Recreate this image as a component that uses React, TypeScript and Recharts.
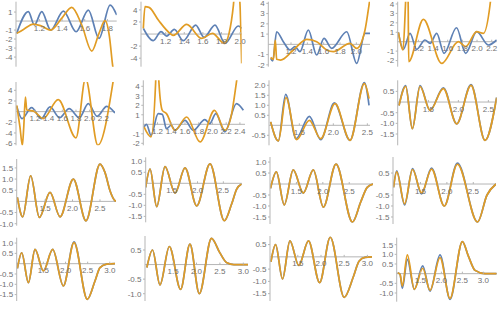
import { LineChart, Line, XAxis, YAxis, ReferenceLine, ReferenceDot } from 'recharts'

type Pt = [number, number]

const BLUE = '#5e81b5'
const ORANGE = '#e19c24'
const AXIS = '#b5b5b5'
const LABEL = '#707070'
const FONT = 'Liberation Sans, Arial, sans-serif'

// row 1
const p1Blue: Pt[] = [[1.0, -1.37], [1.103, 1.04], [1.156, -0.44], [1.221, 1.04], [1.3, -1.0], [1.412, 1.11], [1.524, -1.19], [1.632, 1.22], [1.726, -1.93], [1.824, 1.78], [1.882, 0.67]]
const p1Orange: Pt[] = [[1.0, -1.37], [1.06, -0.93], [1.147, -0.33], [1.22, -0.56], [1.3, -1.0], [1.397, 0.3], [1.485, 1.52], [1.574, -0.44], [1.662, -3.33], [1.726, -1.37], [1.779, 0.04], [1.818, -1.74], [1.844, -4.7], [1.859, -6.2]]

const p2Blue: Pt[] = [[0.96, 0.94], [1.067, -1.1], [1.15, 0.39], [1.211, -0.33], [1.293, 0.77], [1.39, -1.1], [1.523, 1.49], [1.612, -0.55], [1.73, 1.49], [1.838, -1.55], [1.981, 1.33], [2.017, 0.94]]
const p2Orange: Pt[] = [[0.96, 0.94], [0.978, 4.53], [1.021, 4.42], [1.121, 2.32], [1.247, 0.11], [1.282, -0.22], [1.426, 1.6], [1.587, -0.72], [1.702, 0.11], [1.831, -1.55], [1.881, 0.11], [1.928, 4.8], [1.946, 7.8], [1.981, 7.8], [1.999, 4.8], [2.017, -4.86]]

const p3Blue: Pt[] = [[0.951, -1.36], [0.976, -1.62], [1.024, 1.23], [1.106, 0.26], [1.188, -0.55], [1.249, -0.23], [1.31, -0.71], [1.412, 1.4], [1.514, -1.04], [1.604, 0.58], [1.698, -0.39], [1.882, 1.23], [2.004, -1.85], [2.106, 1.07], [2.167, 1.07]]
const p3Orange: Pt[] = [[0.951, -1.27], [0.984, -1.46], [1.008, 0.42], [1.024, -1.46], [1.073, -1.53], [1.229, -0.55], [1.392, 0.49], [1.514, 0.26], [1.637, -0.55], [1.718, -0.71], [1.922, 0.1], [2.004, -0.39], [2.106, 1.4], [2.155, 3.83], [2.176, 4.97]]

const p4Blue: Pt[] = [[0.927, 0.99], [0.995, -0.81], [1.086, 0.88], [1.177, -0.81], [1.29, 0.18], [1.36, -0.18], [1.45, 0.88], [1.55, -1.24], [1.72, 1.48], [1.845, -1.24], [1.995, 1.06], [2.155, -0.35], [2.268, 0.18]]
const p4Orange: Pt[] = [[0.927, 0.99], [0.99, -0.88], [1.027, 4.4], [1.036, 5.8], [1.05, 5.8], [1.06, 4.4], [1.068, -2.12], [1.268, 2.37], [1.518, -2.3], [1.745, 0], [1.845, -0.53], [1.995, 1.06], [2.086, 0.88], [2.177, 3.89], [2.2, 5.5]]

// row 2
const p5Blue: Pt[] = [[0.932, 1.0], [1.01, -1.31], [1.15, 0.75], [1.29, -1.31], [1.42, 0.88], [1.56, -1.13], [1.7, 0.56], [1.85, -1.13], [1.98, 1.5], [2.11, -0.88], [2.25, 1.0], [2.37, -0.25]]
const p5Orange: Pt[] = [[0.932, 1.19], [0.98, -2.9], [1.015, -6.3], [1.035, -3], [1.06, 2.75], [1.08, 0.3], [1.18, 0.1], [1.32, -1.3], [1.54, 2.25], [1.8, -4.9], [1.94, 6.2], [2.12, -6.3], [2.35, 6.2]]

const p6Blue: Pt[] = [[1.003, -0.28], [1.04, 0.0], [1.105, -1.16], [1.21, 1.12], [1.27, 1.05], [1.33, -0.46], [1.4, -0.1], [1.454, -0.63], [1.6, 0.42], [1.72, -0.63], [1.89, 0.5], [1.96, 0.07], [2.05, 1.12], [2.18, -0.8], [2.35, 2.18], [2.45, 1.47]]
const p6Orange: Pt[] = [[1.003, -0.28], [1.105, -1.33], [1.173, 4.46], [1.18, 6], [1.21, 6], [1.22, 4.46], [1.27, 1.47], [1.33, 1.12], [1.454, -0.63], [1.624, 0.77], [1.82, -1.86], [2.03, 1.47], [2.18, -0.63], [2.28, 1.12], [2.35, 4.46], [2.38, 6]]

const p7Blue: Pt[] = [[1.078, 0.17], [1.191, -0.78], [1.299, 1.55], [1.451, -0.67], [1.647, 0.45], [1.814, -0.72], [2.015, 1.12], [2.245, -0.75], [2.456, 2.13], [2.525, 1.0]]
const p7Orange: Pt[] = [[1.078, 0.17], [1.191, -0.78], [1.304, 1.38], [1.461, -0.72], [1.647, 0.25], [1.814, -0.67], [2.025, 1.08], [2.245, -0.75], [2.456, 2.08], [2.525, 1.33]]

const p8Blue: Pt[] = [[1.011, -0.16], [1.122, 0.77], [1.233, -1.25], [1.361, 0.77], [1.528, -0.39], [1.75, 0.67], [1.972, -1.02], [2.211, 0.82], [2.444, -1.8], [2.639, 0.22]]
const p8Orange: Pt[] = [[1.011, -0.16], [1.122, 0.73], [1.233, -1.25], [1.361, 0.73], [1.528, -0.39], [1.75, 0.63], [1.972, -1.02], [2.211, 0.78], [2.444, -1.8], [2.639, 0.2]]

// row 3
const p9Blue: Pt[] = [[0.997, 0.18], [1.094, -0.69], [1.239, 1.15], [1.397, -0.72], [1.591, 0.4], [1.773, -0.69], [2.015, 1.0], [2.245, -0.87], [2.5, 1.67], [2.59, 1.3], [2.682, 0.48], [2.773, 0.03], [2.791, 0.01]]
const p9Orange: Pt[] = [[0.997, 0.18], [1.094, -0.69], [1.239, 1.15], [1.397, -0.72], [1.591, 0.4], [1.773, -0.69], [2.015, 1.0], [2.245, -0.87], [2.5, 1.67], [2.59, 1.3], [2.682, 0.48], [2.773, 0.03], [2.791, 0.01]]

const p10Blue: Pt[] = [[0.997, -0.18], [1.081, 0.65], [1.21, -1.06], [1.371, 0.76], [1.565, -0.45], [1.758, 0.7], [1.984, -1.02], [2.242, 0.88], [2.519, -1.7], [2.66, -0.94], [2.758, -0.26], [2.855, -0.03]]
const p10Orange: Pt[] = [[0.997, -0.18], [1.081, 0.65], [1.21, -1.06], [1.371, 0.76], [1.565, -0.45], [1.758, 0.7], [1.984, -1.02], [2.242, 0.88], [2.519, -1.7], [2.66, -0.94], [2.758, -0.26], [2.855, -0.03]]

const p11Blue: Pt[] = [[1.01, -0.2], [1.12, 0.55], [1.27, -0.95], [1.44, 0.64], [1.63, -0.41], [1.82, 0.64], [2.01, -1.05], [2.25, 0.91], [2.56, -1.73], [2.72, -0.8], [2.84, -0.15], [2.95, 0]]
const p11Orange: Pt[] = [[1.01, -0.2], [1.12, 0.55], [1.27, -0.95], [1.44, 0.64], [1.63, -0.41], [1.82, 0.64], [2.01, -1.05], [2.25, 0.91], [2.56, -1.73], [2.72, -0.8], [2.84, -0.15], [2.95, 0]]

const p12Blue: Pt[] = [[0.99, -0.15], [1.05, 0.6], [1.2, -0.95], [1.35, 0.7], [1.52, -0.45], [1.71, 0.72], [1.95, -1.0], [2.2, 0.95], [2.58, -1.73], [2.76, -0.5], [2.93, 0]]
const p12Orange: Pt[] = [[0.99, -0.15], [1.05, 0.55], [1.2, -0.9], [1.35, 0.66], [1.52, -0.4], [1.71, 0.68], [1.95, -1.0], [2.2, 0.9], [2.58, -1.73], [2.76, -0.5], [2.93, 0]]

// row 4
const p13Blue: Pt[] = [[0.914, -0.23], [1.011, 0.53], [1.162, -0.92], [1.312, 0.69], [1.5, -0.35], [1.711, 0.69], [1.951, -1.08], [2.192, 1.06], [2.492, -1.73], [2.665, -0.84], [2.778, -0.19], [2.929, -0.02], [3.117, 0]]
const p13Orange: Pt[] = [[0.914, -0.23], [1.011, 0.53], [1.162, -0.92], [1.312, 0.69], [1.5, -0.35], [1.711, 0.69], [1.951, -1.08], [2.192, 1.02], [2.492, -1.73], [2.665, -0.84], [2.778, -0.19], [2.929, -0.02], [3.117, 0]]

const p14Blue: Pt[] = [[0.94, -0.1], [1.06, 0.5], [1.22, -0.7], [1.42, 0.62], [1.66, -0.85], [1.86, 0.7], [2.06, -1.0], [2.32, 0.9], [2.5, 0.4], [2.65, 0.06], [2.8, 0], [3.1, 0]]
const p14Orange: Pt[] = [[0.94, -0.1], [1.06, 0.5], [1.22, -0.7], [1.42, 0.62], [1.66, -0.85], [1.86, 0.7], [2.06, -1.0], [2.32, 0.9], [2.5, 0.4], [2.65, 0.06], [2.8, 0], [3.1, 0]]

const p15Blue: Pt[] = [[0.92, -0.2], [1.02, 0.5], [1.17, -0.9], [1.33, 0.65], [1.52, -0.35], [1.73, 0.65], [1.97, -1.05], [2.2, 0.8], [2.5, -1.65], [2.7, -0.8], [2.82, -0.18], [2.95, -0.02], [3.1, 0]]
const p15Orange: Pt[] = [[0.92, -0.2], [1.02, 0.5], [1.17, -0.9], [1.33, 0.65], [1.52, -0.35], [1.73, 0.65], [1.97, -1.05], [2.2, 0.8], [2.5, -1.65], [2.7, -0.8], [2.82, -0.18], [2.95, -0.02], [3.1, 0]]

const p16Blue: Pt[] = [[0.96, 0.05], [1.016, -0.03], [1.071, -0.76], [1.19, 0.74], [1.357, -0.81], [1.556, 0.4], [1.73, -0.9], [1.968, 0.97], [2.206, -1.33], [2.5, 1.66], [2.643, 0.91], [2.802, 0.17], [3.04, 0], [3.317, 0]]
const p16Orange: Pt[] = [[0.96, 0.05], [1.016, -0.03], [1.071, -0.64], [1.19, 0.97], [1.357, -0.81], [1.556, 0.28], [1.73, -0.86], [1.968, 0.83], [2.206, -1.28], [2.5, 1.66], [2.643, 0.91], [2.802, 0.17], [3.04, 0], [3.317, 0]]

const xTicksA = [1.2, 1.4, 1.6, 1.8]
const xTicksB = [1.2, 1.4, 1.6, 1.8, 2.0]
const xTicksC = [1.2, 1.4, 1.6, 1.8, 2.0, 2.2]
const xTicksD = [1.2, 1.4, 1.6, 1.8, 2.0, 2.2, 2.4]
const xTicksE = [1.5, 2.0, 2.5]
const xTicksF = [1.5, 2.0, 2.5, 3.0]

type Panel = {
  blue: Pt[]
  orange: Pt[]
  xTicks: number[]
  yTicks: number[]
  xDomain: [number, number]
  yDomain: [number, number]
  box: [number, number, number, number] // axis x, right x, top y, bottom y (page px)
}

const panels: Panel[] = [
  { blue: p1Blue, orange: p1Orange, xTicks: xTicksA, yTicks: [1, -1, -2, -3, -4], xDomain: [0.994, 1.882], yDomain: [-5.07, 2.15], box: [16, 116.7, 1.7, 66.7] },
  { blue: p2Blue, orange: p2Orange, xTicks: xTicksB, yTicks: [4, 2, -2, -4], xDomain: [0.935, 2.017], yDomain: [-5.41, 5.36], box: [141, 241.7, 1.7, 66.7] },
  { blue: p3Blue, orange: p3Orange, xTicks: xTicksB, yTicks: [4, 3, 2, 1, -1, -2], xDomain: [0.922, 2.167], yDomain: [-2.18, 4.16], box: [268.3, 370, 1.7, 66.7] },
  { blue: p4Blue, orange: p4Orange, xTicks: xTicksC, yTicks: [4, 3, 2, 1, -1, -2], xDomain: [0.918, 2.268], yDomain: [-2.65, 4.24], box: [397.7, 496.7, 1.7, 66.7] },
  { blue: p5Blue, orange: p5Orange, xTicks: xTicksC, yTicks: [4, 2, -2, -4, -6], xDomain: [0.922, 2.371], yDomain: [-6.31, 5.56], box: [16, 115, 82, 145.3] },
  { blue: p6Blue, orange: p6Orange, xTicks: xTicksD, yTicks: [4, 3, 2, 1, -1, -2], xDomain: [0.993, 2.474], yDomain: [-2.21, 4.63], box: [143.3, 245, 80.3, 145.3] },
  { blue: p7Blue, orange: p7Orange, xTicks: xTicksE, yTicks: [2.0, 1.5, 1.0, 0.5, -0.5], xDomain: [1.054, 2.539], yDomain: [-1.0, 2.25], box: [269, 370, 80.3, 145.3] },
  { blue: p8Blue, orange: p8Orange, xTicks: xTicksE, yTicks: [0.5, -0.5, -1.0, -1.5], xDomain: [0.989, 2.639], yDomain: [-2.03, 1.02], box: [397.7, 496.7, 80.3, 145.3] },
  { blue: p9Blue, orange: p9Orange, xTicks: xTicksE, yTicks: [1.5, 1.0, 0.5, -0.5, -1.0], xDomain: [0.985, 2.791], yDomain: [-1.09, 1.9], box: [16.7, 116, 159, 225.7] },
  { blue: p10Blue, orange: p10Orange, xTicks: xTicksE, yTicks: [1.0, 0.5, -0.5, -1.0, -1.5], xDomain: [0.997, 2.855], yDomain: [-1.77, 1.18], box: [145.7, 241.7, 157.3, 222.3] },
  { blue: p11Blue, orange: p11Orange, xTicks: xTicksE, yTicks: [1.0, 0.5, -0.5, -1.0, -1.5], xDomain: [1.0, 2.95], yDomain: [-1.82, 1.23], box: [270, 373, 157, 224] },
  { blue: p12Blue, orange: p12Orange, xTicks: xTicksE, yTicks: [0.5, -0.5, -1.0, -1.5], xDomain: [0.98, 2.93], yDomain: [-1.82, 1.23], box: [393, 496, 157, 224] },
  { blue: p13Blue, orange: p13Orange, xTicks: xTicksF, yTicks: [1.0, 0.5, -0.5, -1.0, -1.5], xDomain: [0.898, 3.117], yDomain: [-1.81, 1.26], box: [16.7, 115, 237.7, 301] },
  { blue: p14Blue, orange: p14Orange, xTicks: xTicksF, yTicks: [0.5, -0.5, -1.0], xDomain: [0.9, 3.1], yDomain: [-1.25, 0.98], box: [145, 248, 236, 301] },
  { blue: p15Blue, orange: p15Orange, xTicks: xTicksF, yTicks: [0.5, -0.5, -1.0, -1.5], xDomain: [0.9, 3.1], yDomain: [-1.8, 0.85], box: [270, 372, 236, 301] },
  { blue: p16Blue, orange: p16Orange, xTicks: xTicksF, yTicks: [1.5, 1.0, 0.5, -0.5, -1.0], xDomain: [0.937, 3.317], yDomain: [-1.45, 1.86], box: [396.7, 496.7, 237.7, 301.7] },
]

const toRows = (pts: Pt[]) => pts.map(([x, y]) => ({ x, y }))

function SmallPlot({ p, index }: { p: Panel; index: number }) {
  const col = index % 4
  const row = Math.floor(index / 4)
  const cellX = col * 125
  const cellY = row * 77
  const h = 80
  const [axisX, rightX, topY, bottomY] = p.box
  const decimals = p.yTicks.some((t) => !Number.isInteger(t)) ? 1 : 0

  return (
    <div style={{ position: 'absolute', left: cellX, top: cellY }}>
      <LineChart
        width={125}
        height={h}
        margin={{ top: topY - cellY, right: cellX + 125 - rightX, bottom: cellY + h - bottomY, left: 0 }}
        style={{ overflow: 'visible' }}
      >
        <XAxis type="number" dataKey="x" domain={p.xDomain} allowDataOverflow hide />
        <YAxis
          type="number"
          domain={p.yDomain}
          allowDataOverflow
          ticks={p.yTicks}
          width={axisX - cellX}
          stroke={AXIS}
          tickSize={2}
          tickMargin={1.5}
          tick={{ fontSize: 8, fill: LABEL, fontFamily: FONT }}
          tickFormatter={(v: number) => v.toFixed(decimals)}
          interval={0}
        />
        <ReferenceLine y={0} stroke={AXIS} strokeWidth={1} />
        {p.xTicks.map((t) => (
          <ReferenceDot
            key={t}
            x={t}
            y={0}
            r={0}
            shape={(s: any) => (
              <g>
                <line x1={s.cx} x2={s.cx} y1={s.cy - 2} y2={s.cy} stroke={AXIS} />
                <text x={s.cx} y={s.cy + 9.5} textAnchor="middle" fontSize={8} fill={LABEL} fontFamily={FONT}>
                  {t.toFixed(1)}
                </text>
              </g>
            )}
          />
        ))}
        <Line data={toRows(p.blue)} dataKey="y" type="monotone" stroke={BLUE} strokeWidth={1.7} dot={false} activeDot={false} isAnimationActive={false} />
        <Line data={toRows(p.orange)} dataKey="y" type="monotone" stroke={ORANGE} strokeWidth={1.7} dot={false} activeDot={false} isAnimationActive={false} />
      </LineChart>
    </div>
  )
}

export default function App() {
  return (
    <div style={{ position: 'absolute', left: 0, top: 0, width: 500, height: 309, background: '#fff', overflow: 'hidden' }}>
      {panels.map((p, i) => (
        <SmallPlot key={i} p={p} index={i} />
      ))}
    </div>
  )
}
